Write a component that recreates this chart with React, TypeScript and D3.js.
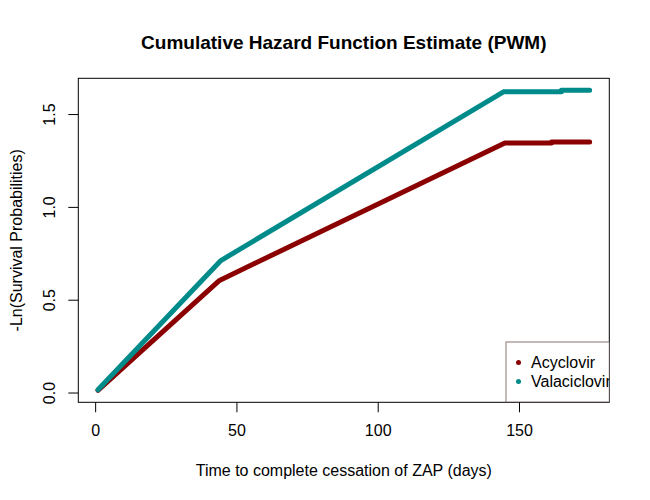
import React, { useEffect, useRef } from 'react';
import * as d3 from 'd3';

// step points: [time (days), cumulative hazard]
const acyclovirTimes = [1, 44, 145, 161.5, 161.5, 175];
const acyclovirHazard = [0.012, 0.604, 1.344, 1.344, 1.35, 1.35];
const valaciclovirTimes = [1, 44.5, 144.5, 165, 165, 175];
const valaciclovirHazard = [0.015, 0.711, 1.62, 1.62, 1.628, 1.628];

const seriesNames = ['Acyclovir', 'Valaciclovir'];
const seriesColors = ['#8b0000', '#008b8b'];
const xTicks = [0, 50, 100, 150];
const yTicks = [0, 0.5, 1.0, 1.5];

const W = 650;
const H = 500;
const margin = { top: 78.3, right: 40.7, bottom: 97.7, left: 78.3 };
const font = '"Liberation Sans", Arial, sans-serif';

// R style axis range: data range padded by 4% each side
const padRange = (lo: number, hi: number) => {
  const d = (hi - lo) * 0.04;
  return [lo - d, hi + d];
};

const App = (): React.ReactElement => {
  const ref = useRef<SVGSVGElement>(null);

  useEffect(() => {
    if (!ref.current) return;
    const svg = d3.select(ref.current);
    svg.selectAll('*').remove();

    const series = [
      acyclovirTimes.map((t, i) => [t, acyclovirHazard[i]] as [number, number]),
      valaciclovirTimes.map((t, i) => [t, valaciclovirHazard[i]] as [number, number]),
    ];
    const allT = [...acyclovirTimes, ...valaciclovirTimes];
    const allH = [...acyclovirHazard, ...valaciclovirHazard];

    const x = d3
      .scaleLinear()
      .domain(padRange(d3.min(allT)!, d3.max(allT)!))
      .range([margin.left, W - margin.right]);
    const y = d3
      .scaleLinear()
      .domain(padRange(d3.min(allH)!, d3.max(allH)!))
      .range([H - margin.bottom, margin.top]);

    svg
      .append('defs')
      .append('clipPath')
      .attr('id', 'plotclip')
      .append('rect')
      .attr('x', margin.left)
      .attr('y', margin.top)
      .attr('width', W - margin.left - margin.right)
      .attr('height', H - margin.top - margin.bottom);

    // title
    svg
      .append('text')
      .attr('x', (margin.left + W - margin.right) / 2)
      .attr('y', 42)
      .attr('dy', '0.35em')
      .attr('text-anchor', 'middle')
      .attr('font-family', font)
      .attr('font-weight', 'bold')
      .attr('font-size', 19)
      .text('Cumulative Hazard Function Estimate (PWM)');

    // x axis
    const xAxis = svg
      .append('g')
      .attr('transform', `translate(0,${H - margin.bottom})`)
      .call(d3.axisBottom(x).tickValues(xTicks).tickSize(10).tickSizeOuter(0).tickPadding(12));
    xAxis.select('.domain').remove();
    xAxis.selectAll('line').attr('stroke', '#000');
    xAxis.selectAll('text').attr('font-family', font).attr('font-size', 16).attr('fill', '#000');

    // y axis, labels turned parallel to the axis like R does
    const yAxis = svg
      .append('g')
      .attr('transform', `translate(${margin.left},0)`)
      .call(d3.axisLeft(y).tickValues(yTicks).tickSize(10).tickFormat(d3.format('.1f')));
    yAxis.select('.domain').remove();
    yAxis.selectAll('line').attr('stroke', '#000');
    yAxis
      .selectAll<SVGTextElement, number>('text')
      .attr('font-family', font)
      .attr('font-size', 16)
      .attr('fill', '#000')
      .attr('x', null)
      .attr('y', 0)
      .attr('dy', null)
      .attr('text-anchor', 'middle')
      .attr('transform', `translate(${50 + 5 - margin.left},0) rotate(-90)`);

    // axis titles
    svg
      .append('text')
      .attr('x', (margin.left + W - margin.right) / 2)
      .attr('y', 470)
      .attr('dy', '0.35em')
      .attr('text-anchor', 'middle')
      .attr('font-family', font)
      .attr('font-size', 16)
      .text('Time to complete cessation of ZAP (days)');
    svg
      .append('text')
      .attr('transform', `translate(16,${(margin.top + H - margin.bottom) / 2}) rotate(-90)`)
      .attr('dy', '0.35em')
      .attr('text-anchor', 'middle')
      .attr('font-family', font)
      .attr('font-size', 16)
      .text('-Ln(Survival Probabilities)');

    // lines
    const line = d3
      .line<[number, number]>()
      .x((d) => x(d[0]))
      .y((d) => y(d[1]));
    series.forEach((s, i) => {
      svg
        .append('path')
        .datum(s)
        .attr('fill', 'none')
        .attr('stroke', seriesColors[i])
        .attr('stroke-width', 5)
        .attr('stroke-linecap', 'round')
        .attr('stroke-linejoin', 'round')
        .attr('d', line);
    });

    // plot box
    svg
      .append('rect')
      .attr('x', margin.left)
      .attr('y', margin.top)
      .attr('width', W - margin.left - margin.right)
      .attr('height', H - margin.top - margin.bottom)
      .attr('fill', 'none')
      .attr('stroke', '#000');

    // legend, bottom right, clipped to plot region
    const lg = svg.append('g').attr('clip-path', 'url(#plotclip)');
    const lx = 506;
    const ly = 342;
    lg.append('rect')
      .attr('x', lx)
      .attr('y', ly)
      .attr('width', W - margin.right - lx)
      .attr('height', 60)
      .attr('fill', '#fff')
      .attr('stroke', '#8b7373');
    seriesNames.forEach((name, i) => {
      lg.append('circle')
        .attr('cx', lx + 12.5)
        .attr('cy', ly + 20.5 + i * 19)
        .attr('r', 2.5)
        .attr('fill', seriesColors[i]);
      lg.append('text')
        .attr('x', lx + 25)
        .attr('y', ly + 20.5 + i * 19)
        .attr('dy', '0.35em')
        .attr('font-family', font)
        .attr('font-size', 16)
        .text(name);
    });
  }, []);

  return (
    <svg
      ref={ref}
      width={W}
      height={H}
      style={{ position: 'absolute', left: 0, top: 0, background: '#fff' }}
    />
  );
};

export default App;
